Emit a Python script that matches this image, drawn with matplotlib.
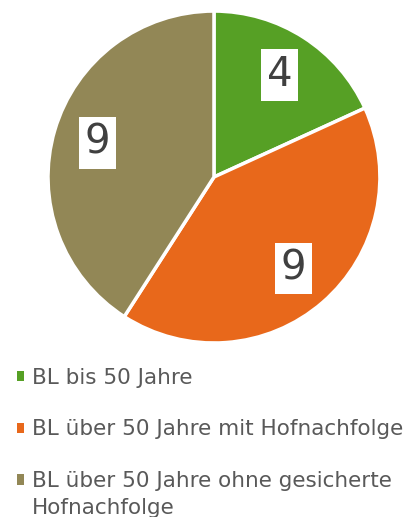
import matplotlib.pyplot as plt
from matplotlib.patches import Patch

labels = ["BL bis 50 Jahre", "BL über 50 Jahre mit Hofnachfolge",
          "BL über 50 Jahre ohne gesicherte\nHofnachfolge"]
values = [4, 9, 9]
colors = ["#56A025", "#E8681B", "#928756"]

fig = plt.figure(figsize=(4.06, 5.17), dpi=100)
ax = fig.add_axes([0.118, 0.3366, 0.818, 0.642])

wedges, texts = ax.pie(values, colors=colors, startangle=90, counterclock=False,
                       labels=[str(v) for v in values], labeldistance=0.73,
                       wedgeprops=dict(edgecolor="white", linewidth=2.5))
for t in texts:
    t.set_ha("center")
    t.set_va("center")
    t.set_fontsize(29)
    t.set_color("#404040")
    t.set_bbox(dict(facecolor="white", edgecolor="none", pad=4))
ax.set_xlim(-1, 1)
ax.set_ylim(-1, 1)
ax.set_aspect("equal")

# legend shows first line only, wrapped remainder is added below
first_lines = [l.split("\n")[0] for l in labels]
handles = [Patch(facecolor=c, edgecolor="none") for c in colors]
leg = fig.legend(handles, first_lines, loc="upper left", bbox_to_anchor=(0.02, 0.3057),
                 frameon=False, fontsize=15.5, labelcolor="#595959",
                 handlelength=0.35, handleheight=0.35, handletextpad=0.37,
                 labelspacing=1.48, borderaxespad=0)

fig.canvas.draw()
for lab, txt in zip(labels, leg.get_texts()):
    rest = lab.split("\n")[1:]
    if rest:
        bb = txt.get_window_extent()
        fig.text(bb.x0 / fig.bbox.width, (bb.y1 - 27) / fig.bbox.height,
                 "\n".join(rest), ha="left", va="top", fontsize=15.5, color="#595959")

fig.savefig("out.png", dpi=100)
